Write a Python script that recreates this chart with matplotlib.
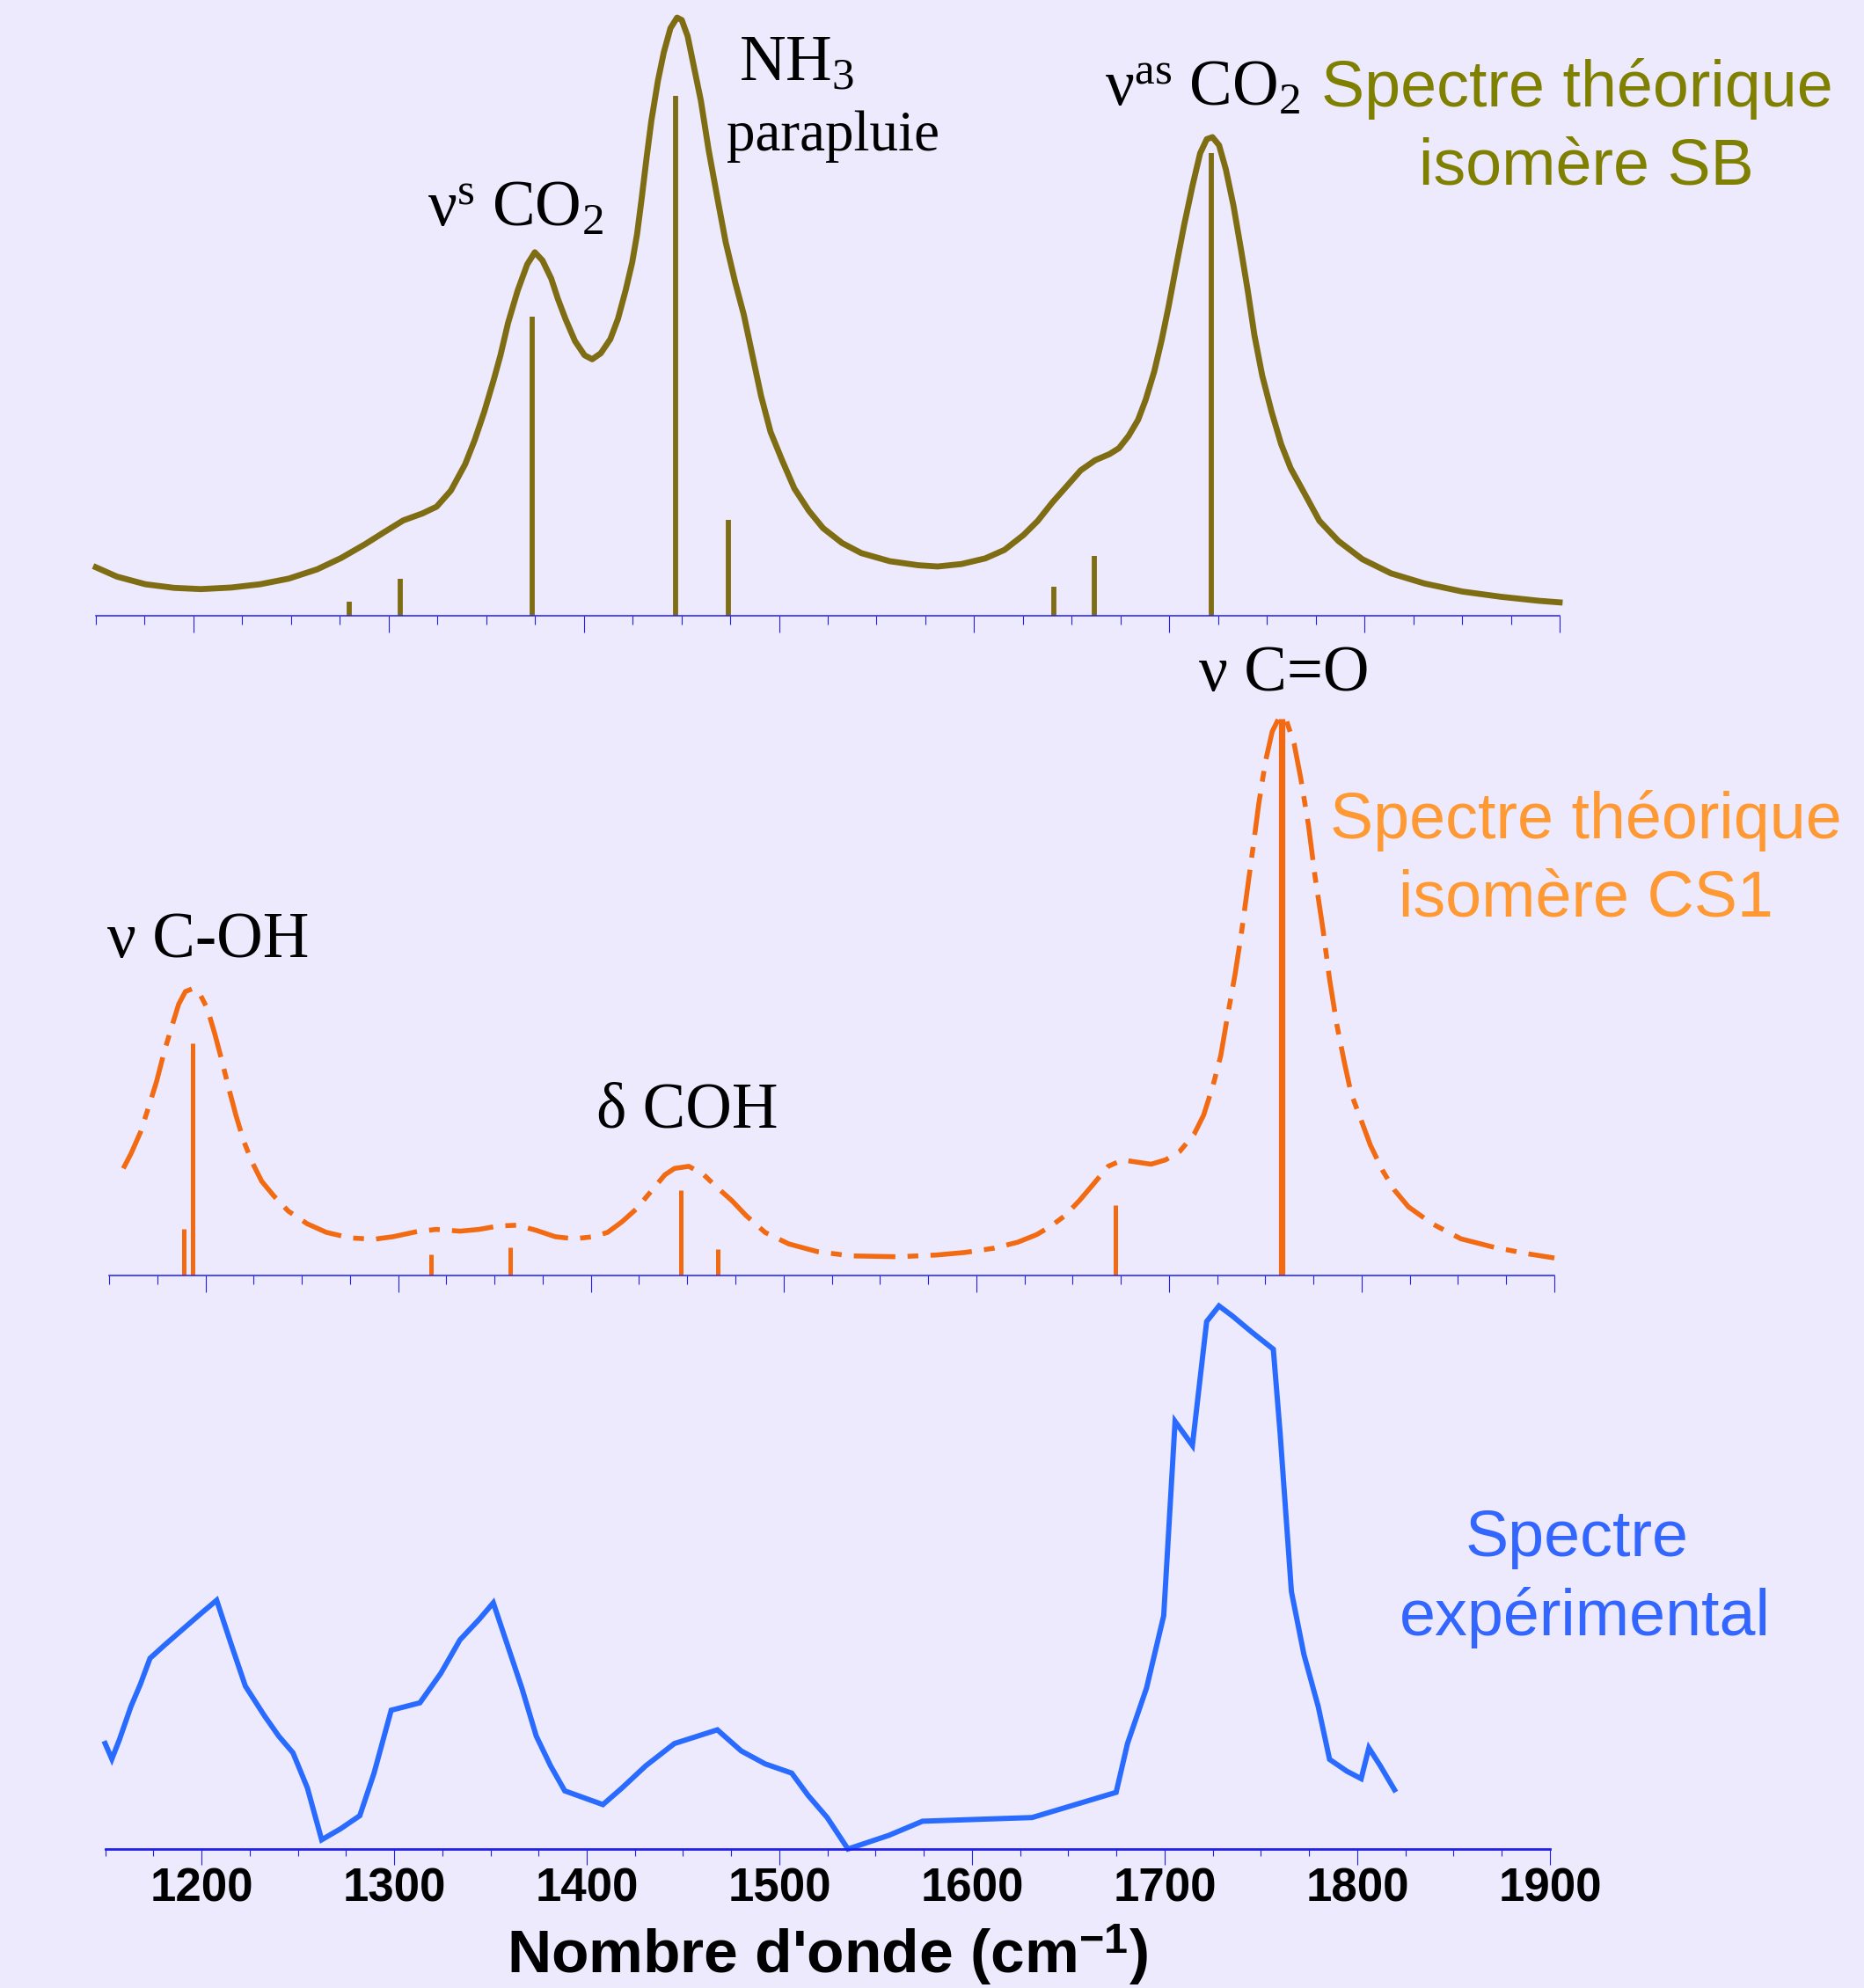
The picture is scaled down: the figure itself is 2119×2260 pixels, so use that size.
import matplotlib
matplotlib.use("Agg")
import matplotlib.pyplot as plt

plt.rcParams['mathtext.fontset'] = 'custom'
plt.rcParams['mathtext.rm'] = 'Liberation Serif'
plt.rcParams['mathtext.it'] = 'Liberation Serif:italic'
plt.rcParams['mathtext.bf'] = 'Liberation Sans:bold'
plt.rcParams['mathtext.default'] = 'rm'

# ---------------- data ----------------
# Spectre théorique isomère SB (olive)
sb_wn = [1150.0, 1160.8, 1175.4, 1190.1, 1203.8, 1219.4, 1234.1, 1248.8, 1263.4, 1275.7,
         1287.9, 1297.7, 1307.5, 1317.2, 1324.6, 1331.9, 1339.2, 1344.1, 1349.0, 1353.9,
         1357.3, 1361.2, 1366.1, 1371.0, 1374.9, 1378.8, 1383.3, 1386.7, 1390.6, 1395.5,
         1400.4, 1404.3, 1408.7, 1413.6, 1417.5, 1421.4, 1424.8, 1427.3, 1429.7, 1432.2,
         1434.6, 1438.0, 1441.0, 1444.4, 1447.8, 1450.2, 1453.2, 1456.6, 1460.0, 1463.9,
         1468.8, 1472.7, 1477.6, 1482.0, 1486.4, 1490.8, 1495.7, 1501.6, 1507.9, 1515.3,
         1522.6, 1532.4, 1542.2, 1556.8, 1571.5, 1581.3, 1593.5, 1605.7, 1615.5, 1625.3,
         1632.6, 1640.0, 1647.3, 1654.6, 1662.0, 1669.3, 1674.2, 1679.1, 1684.0, 1687.9,
         1692.3, 1696.2, 1699.6, 1703.5, 1707.5, 1711.9, 1715.8, 1719.2, 1722.1, 1725.5,
         1729.0, 1732.9, 1736.8, 1740.2, 1743.6, 1747.6, 1752.4, 1757.3, 1762.2, 1769.6,
         1776.9, 1786.7, 1798.9, 1813.6, 1830.7, 1850.2, 1869.8, 1889.4, 1900.0]
sb_int = [55.1, 44.5, 35.8, 31.7, 30.3, 32.1, 35.8, 42.2, 52.8, 65.7,
          81.3, 95.0, 108.4, 116.2, 124.0, 142.3, 172.2, 199.7, 231.9, 268.6,
          296.1, 332.9, 369.6, 399.4, 413.2, 404.0, 383.4, 360.4, 337.5, 312.2,
          296.1, 291.6, 298.4, 314.5, 337.5, 369.6, 401.7, 433.9, 475.2, 521.1,
          562.4, 608.4, 640.5, 668.0, 680.0, 677.2, 658.9, 622.1, 585.4, 530.3,
          470.6, 424.7, 378.8, 342.1, 296.1, 250.2, 208.9, 176.8, 144.6, 119.4,
          99.6, 82.6, 71.2, 62.0, 57.4, 56.0, 58.8, 65.2, 74.8, 91.8,
          107.9, 128.6, 146.9, 165.3, 176.8, 183.7, 190.5, 204.3, 222.7, 245.6,
          277.8, 314.5, 351.2, 397.2, 443.1, 489.0, 525.7, 541.8, 544.1, 534.9,
          507.3, 466.0, 415.5, 369.6, 319.1, 273.2, 231.9, 195.1, 167.6, 137.7,
          107.9, 84.9, 64.3, 48.2, 36.7, 27.5, 21.6, 17.0, 15.2]
sb_stick_wn = [1279.6, 1306.0, 1373.5, 1446.8, 1474.2, 1641.0, 1661.5, 1721.6]
sb_stick_int = [16, 42, 340, 591, 109, 33, 68, 526]

# Spectre théorique isomère CS1 (orange)
cs_wn = [1157.4, 1161.4, 1166.3, 1171.3, 1174.7, 1178.7, 1182.7, 1186.1, 1189.6, 1193.5,
         1197.0, 1201.0, 1204.9, 1208.4, 1212.3, 1215.8, 1219.8, 1224.2, 1229.2, 1235.6,
         1243.0, 1252.9, 1262.8, 1275.2, 1287.5, 1297.4, 1309.8, 1319.7, 1332.1, 1342.0,
         1351.8, 1361.7, 1371.6, 1381.5, 1391.4, 1401.3, 1408.7, 1416.2, 1423.6, 1431.0,
         1438.4, 1443.4, 1450.8, 1458.2, 1465.6, 1473.1, 1480.5, 1490.4, 1502.7, 1517.6,
         1534.9, 1559.6, 1579.4, 1594.3, 1609.1, 1621.5, 1631.4, 1638.8, 1646.2, 1653.6,
         1661.1, 1668.5, 1675.9, 1683.3, 1690.7, 1698.2, 1705.6, 1713.0, 1718.0, 1722.9,
         1726.9, 1730.3, 1734.3, 1737.7, 1740.7, 1743.7, 1746.6, 1750.1, 1753.6, 1757.5,
         1761.0, 1765.0, 1768.4, 1772.4, 1775.8, 1779.8, 1783.3, 1787.2, 1791.2, 1794.6,
         1799.6, 1804.5, 1810.9, 1816.9, 1824.3, 1836.7, 1851.5, 1868.8, 1886.1, 1900.0]
cs_int = [121.7, 138.6, 162.9, 196.8, 221.0, 255.0, 284.1, 308.3, 322.8, 326.2,
          320.4, 303.4, 274.4, 245.3, 211.3, 182.3, 153.2, 128.9, 107.1, 90.2,
          73.2, 58.7, 49.0, 42.7, 41.2, 44.1, 49.9, 52.4, 50.4, 52.4,
          56.2, 57.2, 51.4, 44.1, 41.7, 44.1, 49.0, 61.1, 75.6, 95.0,
          114.4, 121.7, 124.1, 115.4, 99.9, 85.3, 68.3, 49.0, 35.9, 27.1,
          22.3, 21.3, 23.3, 26.2, 31.0, 37.8, 46.5, 56.2, 68.3, 85.3,
          104.7, 124.1, 131.4, 128.9, 126.5, 131.4, 141.1, 160.4, 182.3, 216.2,
          250.1, 293.7, 342.2, 390.7, 439.2, 487.6, 536.1, 584.6, 618.5, 635.5,
          630.6, 604.0, 565.2, 511.9, 453.7, 395.5, 337.4, 284.1, 240.4, 206.5,
          177.4, 148.3, 119.2, 97.4, 78.0, 58.7, 41.7, 32.0, 24.7, 19.9]
cs_stick_wn = [1188.6, 1193.5, 1317.2, 1358.3, 1446.8, 1466.1, 1672.4, 1758.5]
cs_stick_int = [52.8, 263.7, 23.8, 32.0, 97.4, 29.6, 80.5, 633.0]

# Spectre expérimental (bleu)
exp_wn = [1150.0, 1153.5, 1157.4, 1163.4, 1168.3, 1173.3, 1180.7, 1190.6, 1199.5, 1207.9,
          1215.3, 1222.8, 1232.7, 1240.1, 1247.5, 1255.0, 1262.4, 1272.3, 1282.2, 1289.6,
          1298.5, 1313.4, 1324.3, 1334.2, 1344.1, 1351.5, 1358.9, 1366.3, 1373.8, 1381.2,
          1388.6, 1408.4, 1418.3, 1430.7, 1445.5, 1467.8, 1480.2, 1492.6, 1506.4, 1514.9,
          1524.8, 1535.6, 1556.9, 1574.3, 1631.2, 1674.8, 1680.7, 1690.6, 1699.5, 1705.4,
          1714.4, 1721.8, 1728.2, 1735.1, 1745.0, 1756.4, 1759.9, 1765.8, 1772.3, 1779.7,
          1785.6, 1794.6, 1802.0, 1806.0, 1811.9, 1819.3]
exp_int = [120.0, 102.3, 124.2, 162.0, 187.3, 216.8, 231.5, 250.4, 267.3, 282.8,
           233.6, 185.2, 151.5, 128.4, 109.4, 69.4, 10.5, 23.1, 37.9, 86.3,
           157.8, 166.2, 199.9, 237.8, 260.9, 279.9, 231.5, 183.1, 128.4, 94.7,
           66.1, 50.5, 69.4, 94.7, 119.9, 135.5, 111.5, 96.8, 86.3, 61.0,
           35.8, 0.0, 15.6, 31.6, 35.8, 64.4, 119.9, 183.1, 265.2, 486.1,
           458.8, 599.7, 617.4, 606.1, 588.0, 568.2, 473.5, 292.5, 221.0, 162.0,
           101.9, 88.4, 80.0, 114.9, 94.7, 67.3]

major_ticks = [1200, 1300, 1400, 1500, 1600, 1700, 1800, 1900]
tick_labels = ['1200', '1300', '1400', '1500', '1600', '1700', '1800', '1900']
minor_ticks = [1150 + 25 * i for i in range(31)]

# ---------------- style ----------------
BG = '#EEEAFD'
OLIVE = '#7F6D14'
OLIVE_TXT = '#808000'
ORANGE = '#F26A12'
ORANGE_TXT = '#FF9933'
BLUE = '#2A6BFF'
BLUE_TXT = '#3366FF'
AXBLUE = '#1F1FF0'

W, H = 2119, 2260
fig = plt.figure(figsize=(W / 100, H / 100), dpi=100, facecolor=BG)


def panel(x0, x1, ybase, height, spine_lw, maj_len, min_len):
    ax = fig.add_axes([x0 / W, 1 - ybase / H, (x1 - x0) / W, height / H])
    ax.set_facecolor('none')
    ax.set_xlim(1150, 1900)
    ax.set_ylim(0, height)
    for s in ['left', 'right', 'top']:
        ax.spines[s].set_visible(False)
    ax.spines['bottom'].set_color(AXBLUE)
    ax.spines['bottom'].set_linewidth(spine_lw)
    ax.set_yticks([])
    ax.set_xticks(major_ticks)
    ax.set_xticks(minor_ticks, minor=True)
    ax.tick_params(axis='x', which='major', direction='out', length=maj_len, width=0.8,
                   color=AXBLUE)
    ax.tick_params(axis='x', which='minor', direction='out', length=min_len, width=0.8,
                   color=AXBLUE)
    return ax


# top panel
ax1 = panel(109, 1773, 700, 700, 1.1, 13.5, 7.0)
ax1.set_xticklabels([])
ax1.plot(sb_wn, sb_int, color=OLIVE, lw=4.9, solid_joinstyle='round', clip_on=False)
ax1.vlines(sb_stick_wn, 0, sb_stick_int, color=OLIVE, lw=4.2)

# middle panel
ax2 = panel(124, 1767, 1450, 730, 1.1, 13.5, 7.0)
ax2.set_xticklabels([])
ax2.plot(cs_wn, cs_int, color=ORANGE, lw=4.0, linestyle=(0, (8.5, 2.5, 2.2, 2.5)),
         dash_capstyle='butt', clip_on=False)
ax2.vlines(cs_stick_wn[:-1], 0, cs_stick_int[:-1], color=ORANGE, lw=3.6)
ax2.vlines(cs_stick_wn[-1:], 0, cs_stick_int[-1:], color=ORANGE, lw=5.2)

# bottom panel
ax3 = panel(119.5, 1762, 2102, 640, 2.0, 13.0, 5.5)
ax3.set_xticklabels(tick_labels, fontsize=38, fontweight='bold', family='Liberation Sans')
ax3.tick_params(axis='x', which='major', pad=2)
ax3.plot(exp_wn, exp_int, color=BLUE, lw=4.3, solid_joinstyle='miter', clip_on=False)


def ftxt(x, y, s, **kw):
    fig.text(x / W, 1 - y / H, s, va='baseline', **kw)


serif = dict(family='Liberation Serif', fontsize=52.5, color='black')
ftxt(486, 257, r'ν$^{\rm s}$ CO$_{\rm 2}$', **serif)
ftxt(840, 91, r'NH$_{\rm 3}$', **serif)
ftxt(826, 171, 'parapluie', family='Liberation Serif', fontsize=47, color='black')
ftxt(1256, 120, r'ν$^{\rm as}$ CO$_{\rm 2}$', **serif)
ftxt(1363, 785, 'ν C=O', **serif)
ftxt(122, 1088, 'ν C-OH', **serif)
ftxt(678, 1282, 'δ COH', **serif)

sans = dict(family='Liberation Sans', fontsize=53, ha='center')
ftxt(1793, 121, 'Spectre théorique', color=OLIVE_TXT, **sans)
ftxt(1803, 210, 'isomère SB', color=OLIVE_TXT, **sans)
ftxt(1803, 953, 'Spectre théorique', color=ORANGE_TXT, **sans)
ftxt(1803, 1042, 'isomère CS1', color=ORANGE_TXT, **sans)
ftxt(1793, 1769, 'Spectre', color=BLUE_TXT, **sans)
ftxt(1802, 1859, 'expérimental', color=BLUE_TXT, **sans)

ftxt(941, 2243, r"Nombre d'onde (cm$^{\mathbf{-1}}$)", family='Liberation Sans',
     fontsize=50, fontweight='bold', ha='center', color='black')

fig.savefig('out.png', dpi=100, facecolor=BG)
